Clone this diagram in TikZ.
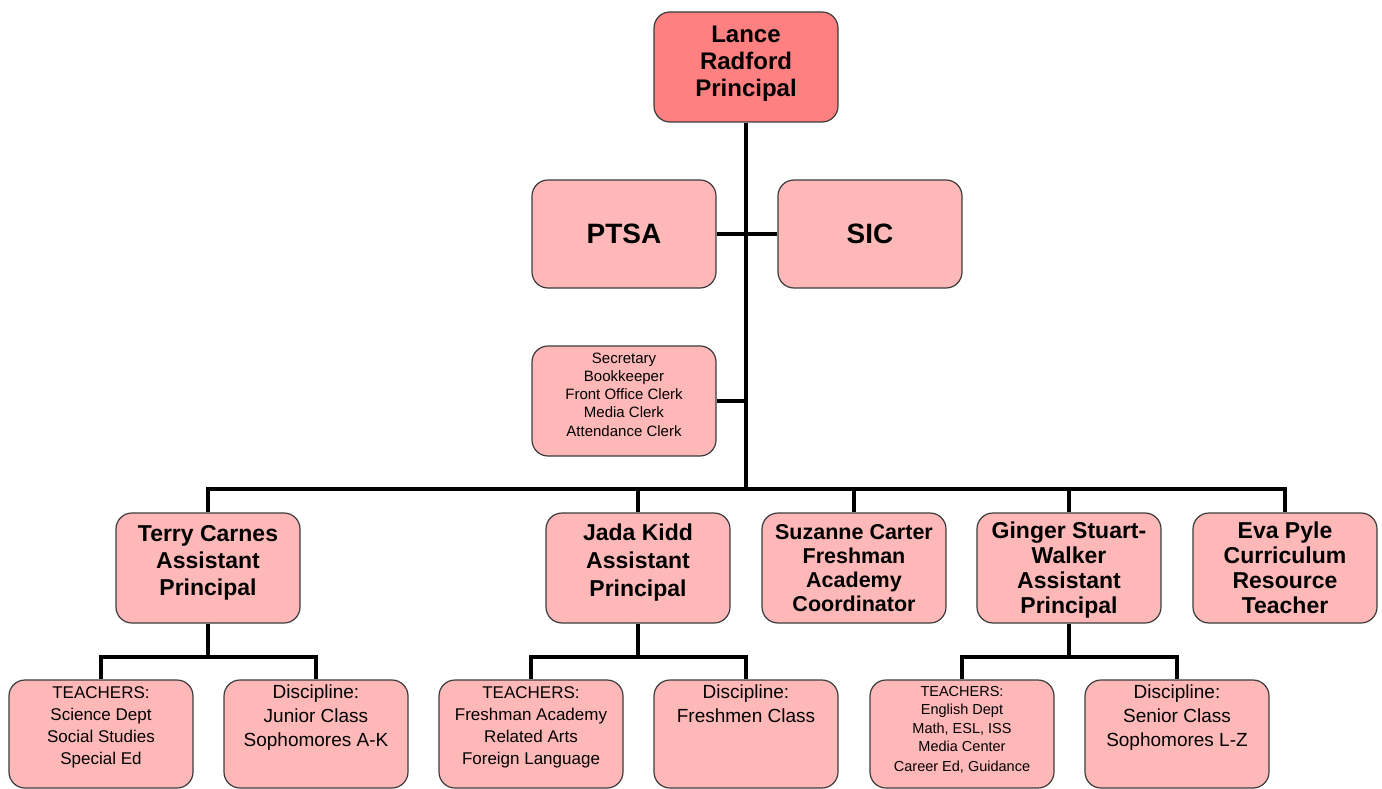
\documentclass[tikz,border=0pt]{standalone}
\usepackage{fontspec}
\setmainfont{Liberation Sans}
\definecolor{headfill}{RGB}{255,128,128}
\definecolor{boxfill}{RGB}{255,184,184}
\definecolor{boxline}{RGB}{60,60,60}
\tikzstyle{orgbox} = [draw=boxline, fill=boxfill, line width=1.2pt,
    rectangle, rounded corners=16pt, minimum width=184pt,
    minimum height=110pt, align=center, inner sep=2pt]
\tikzstyle{headbox} = [orgbox, fill=headfill]
\tikzstyle{link} = [line width=4.5pt, black]
\tikzstyle{stafftext} = [inner sep=0pt, anchor=north, align=center]
\begin{document}
\begin{tikzpicture}[x=1pt, y=-1pt]
    \useasboundingbox (0,0) rectangle (1382,789);
    % top of the chart
    \node [headbox, text depth=12pt, font={\fontsize{24}{27}\selectfont\bfseries}] (principal) at (746,67) {Lance\\Radford\\Principal};
    \node [orgbox, minimum height=108pt, font={\fontsize{28}{30}\selectfont\bfseries}] (ptsa) at (624,234) {PTSA};
    \node [orgbox, minimum height=108pt, font={\fontsize{28}{30}\selectfont\bfseries}] (sic) at (870,234) {SIC};
    \node [orgbox, text depth=12pt, font={\fontsize{15}{18}\selectfont}] (office) at (624,401) {Secretary\\Bookkeeper\\Front Office Clerk\\Media Clerk\\[1pt]Attendance Clerk};
    \coordinate (bus) at (746,489);
    % second row
    \node [orgbox, text depth=15pt, font={\fontsize{23}{27}\selectfont\bfseries}] (terry) at (208,568) {Terry Carnes\\Assistant\\Principal};
    \node [orgbox, text depth=15pt, font={\fontsize{23}{28}\selectfont\bfseries}] (jada) at (638,568) {Jada Kidd\\Assistant\\Principal};
    \node [orgbox, font={\fontsize{21.5}{24}\selectfont\bfseries}] (suzanne) at (854,568) {Suzanne Carter\\Freshman\\Academy\\Coordinator};
    \node [orgbox, text depth=0pt, font={\fontsize{23}{25}\selectfont\bfseries}] (ginger) at (1069,568) {Ginger Stuart-\\Walker\\Assistant\\Principal};
    \node [orgbox, text depth=0pt, font={\fontsize{23}{25}\selectfont\bfseries}] (eva) at (1285,568) {Eva Pyle\\Curriculum\\Resource\\Teacher};
    % third row
    \node [orgbox, minimum height=108pt] (terryteach) at (101,734) {};
    \node [orgbox, minimum height=108pt] (terrydisc) at (316,734) {};
    \node [orgbox, minimum height=108pt] (jadateach) at (531,734) {};
    \node [orgbox, minimum height=108pt] (jadadisc) at (746,734) {};
    \node [orgbox, minimum height=108pt] (gingerteach) at (962,734) {};
    \node [orgbox, minimum height=108pt] (gingerdisc) at (1177,734) {};
    \node [stafftext, font={\fontsize{17}{22}\selectfont}] (terryteachtext) at (101,686) {TEACHERS:\\Science Dept\\Social Studies\\Special Ed};
    \node [stafftext, font={\fontsize{19}{24}\selectfont}] (terrydisctext) at (316,685) {Discipline:\\Junior Class\\Sophomores A-K};
    \node [stafftext, font={\fontsize{17}{22}\selectfont}] (jadateachtext) at (531,686) {TEACHERS:\\Freshman Academy\\Related Arts\\Foreign Language};
    \node [stafftext, font={\fontsize{19}{24}\selectfont}] (jadadisctext) at (746,685) {Discipline:\\Freshmen Class};
    \node [stafftext, font={\fontsize{14.5}{18.5}\selectfont}] (gingerteachtext) at (962,686) {TEACHERS:\\English Dept\\Math, ESL, ISS\\Media Center\\[1pt]Career Ed, Guidance};
    \node [stafftext, font={\fontsize{19}{24}\selectfont}] (gingerdisctext) at (1177,685) {Discipline:\\Senior Class\\Sophomores L-Z};
    % connectors
    \draw [link] (principal.south) -- (bus);
    \draw [link] (ptsa.east) -- (sic.west);
    \draw [link] (office.east) -- (office.east -| bus);
    \foreach \n in {terry,jada,suzanne,ginger,eva}
        \draw [link] (\n.north) |- (bus);
    \coordinate (terrybus) at (208,657);
    \coordinate (jadabus) at (638,657);
    \coordinate (gingerbus) at (1069,657);
    \draw [link] (terry.south) -- (terrybus);
    \draw [link] (terryteach.north) |- (terrybus);
    \draw [link] (terrydisc.north) |- (terrybus);
    \draw [link] (jada.south) -- (jadabus);
    \draw [link] (jadateach.north) |- (jadabus);
    \draw [link] (jadadisc.north) |- (jadabus);
    \draw [link] (ginger.south) -- (gingerbus);
    \draw [link] (gingerteach.north) |- (gingerbus);
    \draw [link] (gingerdisc.north) |- (gingerbus);
\end{tikzpicture}
\end{document}
